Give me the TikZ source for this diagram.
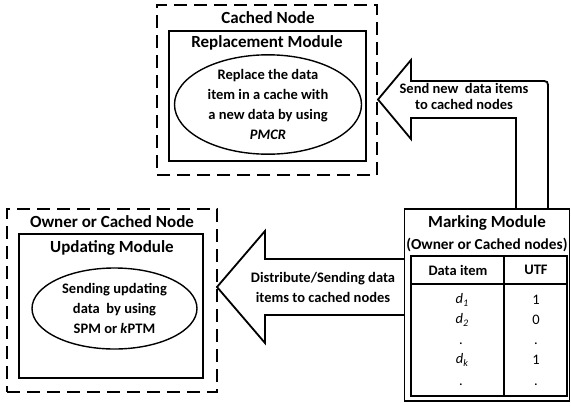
\documentclass[tikz,border=0pt]{standalone}
\usepackage{fontspec}
\setmainfont{Carlito}
\usetikzlibrary{shapes.geometric}
\begin{document}
\begin{tikzpicture}[x=1pt,y=-1pt,
  dashbox/.style={draw, line width=1.8pt, dash pattern=on 13pt off 7pt, rectangle, inner sep=0pt},
  solidbox/.style={draw, line width=1.8pt, rectangle, inner sep=0pt},
  ellbox/.style={draw, line width=1.4pt, ellipse, inner sep=0pt, align=center, font=\fontsize{14.5}{20}\selectfont\bfseries},
  title/.style={font=\fontsize{17}{20}\selectfont\bfseries, inner sep=0pt},
  lbl/.style={font=\fontsize{14.5}{16}\selectfont\bfseries, align=center, inner sep=0pt},
  blockarrow/.style={draw, line width=1.8pt, line join=miter},
  cell/.style={font=\fontsize{14.5}{16}\selectfont, inner sep=0pt},
  hcell/.style={font=\fontsize{14.5}{16}\selectfont\bfseries, inner sep=0pt}
]
\useasboundingbox (0,0) rectangle (571,405);

% top cached node
\node[dashbox, minimum width=220pt, minimum height=170pt] (cn) at (267,90) {};
\node[solidbox, minimum width=197pt, minimum height=130pt] (rm) at (267.5,96) {};
\node[title] (cnt) at (268,18) {Cached Node};
\node[title] (rmt) at (267,43) {Replacement Module};
\node[ellbox, minimum width=187pt, minimum height=85pt] (re) at (268,104.5)
  {Replace the data\\item in a cache with\\a new data by using\\\textit{PMCR}};

% bottom-left owner or cached node
\node[dashbox, minimum width=210pt, minimum height=183pt] (oc) at (112,300.5) {};
\node[solidbox, minimum width=184pt, minimum height=144pt] (um) at (111,306) {};
\node[title] (oct) at (112,222) {Owner or Cached Node};
\node[title] (umt) at (112,248) {Updating Module};
\node[ellbox, minimum width=165pt, minimum height=81pt] (ue) at (114.5,308.5)
  {Sending updating\\data\ \ by using\\SPM or \textit{k}PTM};

% marking module
\node[solidbox, minimum width=165pt, minimum height=192pt] (mm) at (487,305) {};
\node[title] (mmt) at (487,223) {Marking Module};
\node[title, font=\fontsize{15.3}{18}\selectfont\bfseries] (mms) at (487,245) {(Owner or Cached nodes)};
\node[solidbox, minimum width=156pt, minimum height=140pt] (tb) at (489,326) {};
\coordinate (ct) at (504,256);
\coordinate (cb) at (504,396);
\coordinate (hl) at (411,284);
\coordinate (hr) at (567,284);
\draw[line width=1.8pt] (ct) -- (cb);
\draw[line width=1.8pt] (hl) -- (hr);
\node[hcell] (h1) at (458,270) {Data item};
\node[hcell] (h2) at (536,270) {UTF};
\newcommand{\ditem}[1]{\textit{d}\raisebox{-0.45ex}{\fontsize{10}{10}\selectfont\textit{#1}}}
\node[cell] (r1a) at (462,300) {\ditem{1}};
\node[cell] (r1b) at (536,300) {1};
\node[cell] (r2a) at (462,320) {\ditem{2}};
\node[cell] (r2b) at (536,320) {0};
\node[cell, anchor=base] (r3a) at (461,344) {.};
\node[cell, anchor=base] (r3b) at (536,344) {.};
\node[cell] (r4a) at (462,360) {\ditem{k}};
\node[cell] (r4b) at (536,360) {1};
\node[cell, anchor=base] (r5a) at (461,385) {.};
\node[cell, anchor=base] (r5b) at (536,385) {.};

% top block arrow
\coordinate (ta1) at (516,209);
\coordinate (ta2) at (548,209);
\draw[blockarrow] (ta1) -- (516,118) -- (411,118) -- (411,139) -- (378,99.5) -- (411,60) -- (411,81)
  -- (540,81) .. controls (548,81) .. (548,89) -- (ta2);
\node[lbl] (tal) at (464,96) {Send new\ \ data items\\to cached nodes};

% bottom block arrow
\coordinate (ba1) at (404,259);
\coordinate (ba2) at (404,315);
\draw[blockarrow] (ba1) -- (265,259) -- (265,231) -- (217,287) -- (265,343) -- (265,315) -- (ba2);
\node[lbl, font=\fontsize{14.5}{20}\selectfont\bfseries] (bal) at (323,287) {Distribute/Sending data\\items to cached nodes};
\end{tikzpicture}
\end{document}
